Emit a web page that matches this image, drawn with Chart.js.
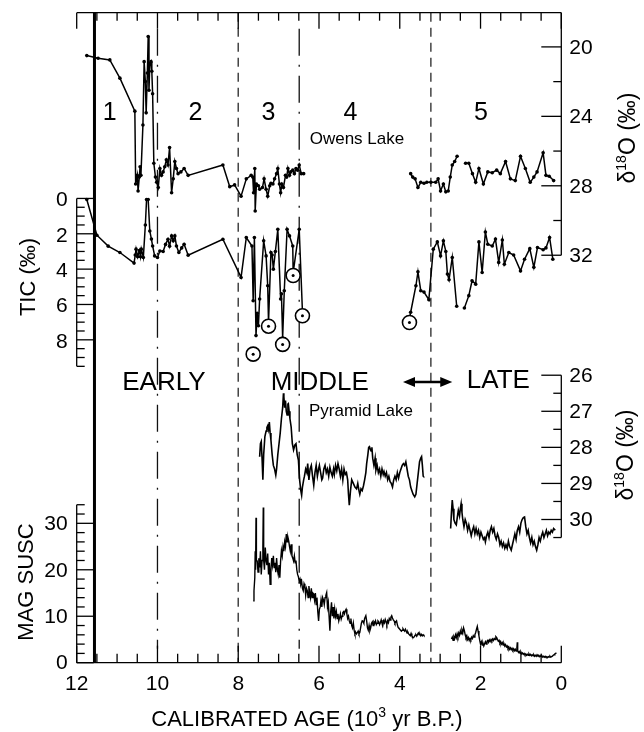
<!DOCTYPE html>
<html>
<head>
<meta charset="utf-8">
<title>Owens Lake / Pyramid Lake records</title>
<script src="https://cdn.jsdelivr.net/npm/chart.js@4.4.1/dist/chart.umd.min.js"></script>
<style>
  html, body { margin: 0; padding: 0; background: #fff; }
  #wrap { position: relative; width: 644px; height: 732px; }
</style>
</head>
<body>
<div id="wrap"><canvas id="chart"></canvas></div>
<script>
// --- Data (age in 10^3 yr B.P., value) ---
// Owens Lake d18O (permil)
const owensD18O = [
  [11.75, 20.5], [11.47, 20.65], [11.18, 20.75], [10.93, 21.8], [10.56, 23.7],
  [10.54, 27.9], [10.50, 27.4], [10.48, 28.3], [10.45, 27.5], [10.43, 26.9],
  [10.41, 27.4], [10.36, 24.5], [10.33, 20.85], [10.30, 22.0], [10.28, 23.8],
  [10.25, 21.5], [10.23, 19.4], [10.21, 22.5], [10.19, 21.0], [10.16, 20.85],
  [10.14, 21.4], [10.12, 22.7], [10.09, 26.7], [10.05, 27.5], [10.02, 27.8],
  [9.98, 28.1], [9.94, 27.0], [9.90, 27.4], [9.86, 27.2], [9.82, 26.9],
  [9.78, 26.5], [9.74, 26.8], [9.70, 25.8], [9.65, 28.4], [9.61, 27.6],
  [9.57, 26.6], [9.53, 27.0], [9.49, 27.3], [9.42, 27.2], [9.34, 27.0],
  [9.24, 27.4], [8.38, 26.8], [8.21, 28.05], [8.09, 27.95], [7.93, 28.6],
  [7.80, 27.6], [7.68, 27.4], [7.64, 27.5], [7.62, 28.4], [7.59, 27.0],
  [7.58, 29.45], [7.55, 27.9], [7.50, 28.0], [7.47, 28.2], [7.40, 28.1],
  [7.36, 27.6], [7.31, 28.2], [7.27, 28.6], [7.22, 28.0], [7.19, 27.85],
  [7.14, 27.9], [7.10, 27.6], [7.05, 27.3], [7.02, 27.0], [6.98, 27.9],
  [6.95, 28.4], [6.92, 27.9], [6.88, 28.1], [6.83, 27.4], [6.80, 27.5],
  [6.77, 27.0], [6.73, 27.4], [6.70, 27.2], [6.65, 27.1], [6.61, 27.3],
  [6.57, 27.0], [6.53, 27.1], [6.49, 26.8], [6.44, 27.3], [6.38, 27.3],
  [5.0, null],
  [3.73, 27.3], [3.68, 27.5], [3.62, 27.6], [3.55, 28.1], [3.48, 27.8],
  [3.40, 27.85], [3.33, 27.8], [3.23, 27.8], [3.11, 27.8], [3.05, 27.6],
  [2.99, 28.3], [2.92, 27.9], [2.86, 28.35], [2.80, 28.3], [2.75, 27.5],
  [2.70, 26.8], [2.64, 26.6], [2.58, 26.3],
  [2.48, null],
  [2.37, 26.7], [2.29, 26.7], [2.20, 27.3], [2.12, 27.8], [2.04, 27.0],
  [1.93, 27.9], [1.82, 27.2], [1.71, 27.25], [1.60, 27.1], [1.51, 27.3],
  [1.38, 26.6], [1.26, 27.6], [1.14, 27.7], [1.01, 26.3], [0.89, 27.0],
  [0.77, 27.8], [0.68, 27.5], [0.60, 27.2], [0.45, 26.1], [0.38, 27.4],
  [0.30, 27.45], [0.19, 27.7]
];

// Owens Lake TIC (permil)
const owensTIC = [
  [11.75, 0.06], [11.50, 2.08], [11.22, 2.7], [10.93, 3.06], [10.58, 3.66],
  [10.55, 3.2], [10.53, 2.87], [10.49, 3.3], [10.45, 2.95], [10.42, 3.3],
  [10.40, 2.87], [10.35, 3.34], [10.30, 1.5], [10.27, 0.06], [10.23, 0.06],
  [10.19, 1.84], [10.15, 2.3], [10.12, 2.69], [10.07, 3.25], [10.00, 3.34],
  [9.94, 2.97], [9.86, 3.0], [9.80, 2.6], [9.74, 2.31], [9.70, 2.7],
  [9.65, 2.12], [9.61, 2.4], [9.57, 2.12], [9.53, 2.69], [9.47, 3.06],
  [9.40, 2.8], [9.34, 2.59], [9.24, 3.21], [8.38, 2.31], [7.93, 4.47],
  [7.80, 2.21], [7.66, 2.69], [7.63, 5.79], [7.60, 2.21], [7.56, 7.76],
  [7.53, 6.5], [7.50, 7.2], [7.47, 5.69], [7.37, 2.4], [7.31, 3.25],
  [7.27, 4.94], [7.25, 7.0], [7.19, 3.06], [7.16, 3.2], [7.13, 4.0],
  [7.08, 3.0], [7.02, 1.75], [6.95, 5.69], [6.93, 5.4], [6.90, 7.9],
  [6.86, 5.22], [6.79, 1.75], [6.73, 2.12], [6.65, 2.69], [6.64, 4.2],
  [6.49, 1.75], [6.41, 6.4],
  [5.0, null],
  [3.76, 6.8], [3.73, 6.44], [3.60, 4.94], [3.55, 4.15], [3.48, 5.22],
  [3.40, 5.3], [3.28, 5.73], [3.17, 2.87], [3.07, 2.46], [2.99, 3.25],
  [2.92, 2.4], [2.86, 3.0], [2.82, 4.28], [2.78, 4.6], [2.70, 3.34],
  [2.59, 6.1],
  [2.50, null],
  [2.40, 6.2], [2.29, 5.5], [2.21, 4.66], [2.12, 4.85], [2.04, 2.46],
  [1.96, 4.19], [1.88, 1.9], [1.82, 2.59], [1.71, 2.69], [1.63, 2.3],
  [1.55, 3.62], [1.46, 2.35], [1.41, 3.72], [1.30, 3.06], [1.18, 3.2],
  [1.01, 4.1], [0.91, 3.44], [0.78, 2.84], [0.68, 3.9], [0.59, 2.78],
  [0.45, 2.9], [0.38, 2.8], [0.29, 2.21], [0.21, 3.44]
];

// circled TIC samples
const ticCircled = [
  [7.63, 8.81], [7.25, 7.23], [6.90, 8.26], [6.64, 4.36], [6.41, 6.64], [3.76, 7.02]
];

// Pyramid Lake d18O (permil)
const pyramidD18O = [
  [7.47, 28.26], [7.45, 27.9], [7.43, 27.84], [7.41, 28.3], [7.39, 28.9],
  [7.37, 28.2], [7.34, 27.7], [7.31, 27.55], [7.29, 27.45], [7.27, 27.4],
  [7.25, 27.5], [7.23, 27.3], [7.21, 27.6], [7.19, 27.8], [7.16, 28.2],
  [7.13, 28.5], [7.10, 28.6], [7.07, 28.77], [7.05, 28.6], [7.02, 28.2],
  [6.99, 27.9], [6.96, 27.6], [6.93, 27.2], [6.90, 26.9], [6.88, 26.5],
  [6.87, 26.6], [6.85, 26.9], [6.83, 26.7], [6.81, 27.0], [6.79, 27.1],
  [6.77, 26.8], [6.76, 26.79], [6.74, 27.0], [6.72, 27.2], [6.69, 27.43],
  [6.66, 27.9], [6.63, 28.07], [6.60, 27.94], [6.57, 27.9], [6.54, 28.2],
  [6.51, 28.35], [6.48, 28.9], [6.45, 29.2], [6.43, 29.33], [6.41, 29.1],
  [6.38, 28.9], [6.36, 28.8], [6.33, 28.6], [6.30, 28.7], [6.28, 28.45],
  [6.25, 28.9], [6.22, 28.6], [6.19, 28.5], [6.16, 28.8], [6.13, 29.05],
  [6.10, 28.7], [6.07, 28.5], [6.04, 28.8], [6.01, 28.6], [5.99, 28.5],
  [5.96, 28.7], [5.93, 28.9], [5.91, 28.85], [5.88, 28.6], [5.85, 28.5],
  [5.82, 28.7], [5.79, 28.6], [5.76, 28.8], [5.73, 28.55], [5.70, 28.7],
  [5.67, 28.8], [5.64, 28.6], [5.62, 28.75], [5.59, 28.5], [5.56, 28.65],
  [5.53, 28.45], [5.50, 28.6], [5.47, 28.8], [5.44, 28.6], [5.41, 28.9],
  [5.38, 28.6], [5.35, 28.75], [5.32, 28.7], [5.29, 28.9], [5.27, 29.3],
  [5.25, 29.6], [5.22, 29.2], [5.19, 28.9], [5.15, 29.0], [5.11, 29.1],
  [5.07, 29.15], [5.04, 29.0], [5.01, 29.2], [4.99, 29.3], [4.96, 29.15],
  [4.93, 29.2], [4.90, 29.07], [4.87, 28.9], [4.84, 28.7], [4.82, 28.45],
  [4.79, 28.2], [4.77, 28.0], [4.75, 27.98], [4.73, 28.05], [4.71, 28.1],
  [4.69, 28.0], [4.67, 28.3], [4.64, 28.5], [4.61, 28.3], [4.59, 28.63],
  [4.56, 28.5], [4.53, 28.7], [4.50, 28.6], [4.47, 28.8], [4.44, 28.6],
  [4.41, 28.75], [4.39, 28.67], [4.36, 28.8], [4.33, 28.7], [4.30, 28.9],
  [4.27, 28.8], [4.24, 28.95], [4.21, 29.0], [4.18, 29.1], [4.15, 28.9],
  [4.12, 28.8], [4.09, 28.9], [4.06, 28.7], [4.03, 28.85], [4.00, 28.7],
  [3.97, 28.6], [3.94, 28.5], [3.91, 28.45], [3.88, 28.5], [3.85, 28.4],
  [3.82, 28.6], [3.79, 28.8], [3.76, 28.9], [3.73, 29.1], [3.70, 29.2],
  [3.67, 29.3], [3.63, 29.37], [3.60, 29.3], [3.57, 29.0], [3.54, 28.7],
  [3.51, 28.4], [3.48, 28.3], [3.46, 28.26], [3.44, 28.5], [3.42, 28.8],
  [3.41, 28.81],
  [3.0, null],
  [2.74, 30.25], [2.72, 29.8], [2.70, 29.46], [2.68, 29.7], [2.66, 30.0],
  [2.63, 30.1], [2.60, 30.15], [2.57, 29.9], [2.55, 29.75], [2.52, 29.9],
  [2.50, 29.7], [2.48, 29.56], [2.46, 29.8], [2.44, 30.0], [2.41, 30.2],
  [2.38, 30.0], [2.35, 30.1], [2.32, 30.3], [2.29, 30.15], [2.26, 30.3],
  [2.23, 30.45], [2.20, 30.3], [2.17, 30.2], [2.14, 30.4], [2.11, 30.25],
  [2.08, 30.4], [2.05, 30.3], [2.02, 30.5], [1.99, 30.35], [1.96, 30.45],
  [1.93, 30.55], [1.90, 30.5], [1.88, 30.62], [1.85, 30.45], [1.82, 30.35],
  [1.79, 30.5], [1.76, 30.3], [1.73, 30.2], [1.70, 30.35], [1.67, 30.25],
  [1.64, 30.45], [1.61, 30.55], [1.58, 30.4], [1.55, 30.5], [1.52, 30.7],
  [1.49, 30.6], [1.46, 30.75], [1.43, 30.65], [1.40, 30.8], [1.37, 30.7],
  [1.34, 30.8], [1.31, 30.6], [1.28, 30.75], [1.24, 30.85], [1.21, 30.7],
  [1.18, 30.55], [1.15, 30.4], [1.12, 30.55], [1.09, 30.3], [1.06, 30.2],
  [1.03, 30.35], [1.00, 30.1], [0.97, 30.0], [0.94, 29.95], [0.91, 29.93],
  [0.88, 30.2], [0.85, 30.4], [0.82, 30.3], [0.79, 30.5], [0.76, 30.65],
  [0.73, 30.5], [0.70, 30.7], [0.67, 30.6], [0.64, 30.75], [0.61, 30.85],
  [0.58, 30.7], [0.55, 30.5], [0.52, 30.6], [0.49, 30.45], [0.46, 30.35],
  [0.43, 30.5], [0.40, 30.4], [0.37, 30.3], [0.34, 30.45], [0.31, 30.35],
  [0.28, 30.4], [0.25, 30.3], [0.22, 30.35], [0.19, 30.25], [0.15, 30.3]
];

// Pyramid Lake magnetic susceptibility
const pyramidMag = [
  [7.63, 13.3], [7.61, 15.5], [7.59, 18.3], [7.58, 24], [7.57, 20],
  [7.56, 31.2], [7.55, 22], [7.53, 21.9], [7.51, 19.5], [7.49, 22.5],
  [7.47, 20.5], [7.45, 24], [7.43, 19], [7.41, 22], [7.39, 25],
  [7.38, 33.4], [7.37, 22], [7.35, 20], [7.33, 24.8], [7.31, 22],
  [7.29, 21], [7.27, 23.5], [7.25, 19], [7.23, 21.5], [7.21, 16.9],
  [7.19, 20], [7.17, 22.5], [7.15, 21], [7.13, 23], [7.11, 20.5],
  [7.09, 21.5], [7.07, 19.5], [7.05, 22.5], [7.03, 20], [7.01, 19],
  [6.99, 21], [6.97, 18.3], [6.95, 22], [6.93, 24.1], [6.91, 23],
  [6.89, 25], [6.87, 24], [6.85, 26], [6.83, 25], [6.81, 27.7],
  [6.79, 26], [6.77, 27], [6.75, 26.2], [6.73, 25], [6.71, 24],
  [6.69, 25.5], [6.67, 23], [6.65, 22.5], [6.63, 21.9], [6.61, 23],
  [6.59, 21.5], [6.57, 22], [6.55, 20], [6.53, 19], [6.51, 18.5],
  [6.49, 17.5], [6.47, 18], [6.45, 16.9], [6.43, 17.5], [6.41, 16],
  [6.39, 15.5], [6.37, 17], [6.35, 16.5], [6.33, 14.5], [6.31, 16],
  [6.29, 15.5], [6.27, 14], [6.25, 16.5], [6.23, 15], [6.21, 14],
  [6.19, 16], [6.17, 14], [6.15, 15], [6.13, 14.8], [6.11, 13.5],
  [6.09, 15], [6.07, 12.5], [6.05, 14], [6.03, 11], [6.01, 9.0],
  [5.99, 11.5], [5.97, 12], [5.95, 13.5], [5.93, 12], [5.91, 14],
  [5.89, 13.5], [5.87, 12.5], [5.85, 14], [5.83, 14.5], [5.81, 15.1],
  [5.79, 12], [5.77, 13], [5.75, 10], [5.73, 6.9], [5.71, 11],
  [5.69, 13], [5.67, 10], [5.65, 12], [5.63, 9.5], [5.61, 11.5],
  [5.59, 10], [5.57, 11], [5.55, 9.5], [5.53, 10.5], [5.51, 9],
  [5.49, 9.7], [5.47, 10.5], [5.45, 9.4], [5.43, 10], [5.41, 10.8],
  [5.39, 11], [5.37, 10.5], [5.35, 11.2], [5.33, 11.5], [5.31, 10.5],
  [5.29, 9.5], [5.27, 10], [5.25, 9], [5.23, 8.5], [5.21, 9.5],
  [5.19, 8.0], [5.17, 7.5], [5.15, 8.5], [5.13, 7], [5.11, 6.2],
  [5.09, 6.5], [5.07, 6.2], [5.05, 6.5], [5.03, 6.8], [5.01, 6.2],
  [4.99, 6.5], [4.97, 7.5], [4.95, 8.5], [4.93, 9], [4.91, 8.9],
  [4.89, 8.5], [4.87, 9.5], [4.84, 10.1], [4.82, 9.0], [4.80, 7.5],
  [4.78, 7.0], [4.76, 8.0], [4.74, 6.9], [4.72, 7.5], [4.70, 8.5],
  [4.68, 8.8], [4.66, 8.0], [4.64, 8.8], [4.62, 8.5], [4.60, 9.0],
  [4.58, 8.2], [4.56, 8.5], [4.54, 9.0], [4.52, 8.8], [4.50, 8.2],
  [4.48, 8.6], [4.46, 9.2], [4.44, 8.5], [4.42, 8.0], [4.40, 9.0],
  [4.38, 8.6], [4.36, 9.3], [4.34, 8.8], [4.32, 8.2], [4.30, 9.0],
  [4.28, 8.6], [4.26, 9.5], [4.24, 9.2], [4.22, 9.8], [4.20, 10.1],
  [4.18, 9.6], [4.16, 9.2], [4.14, 9.0], [4.12, 8.5], [4.10, 8.8],
  [4.08, 9.0], [4.06, 8.2], [4.04, 7.6], [4.02, 7.4], [4.00, 7.2],
  [3.98, 7.0], [3.96, 6.8], [3.94, 7.0], [3.92, 7.3], [3.90, 7.0],
  [3.88, 6.8], [3.86, 7.2], [3.84, 6.8], [3.82, 6.4], [3.80, 6.6],
  [3.78, 6.2], [3.76, 6.0], [3.74, 5.8], [3.72, 6.3], [3.70, 5.8],
  [3.68, 5.5], [3.66, 5.4], [3.64, 5.6], [3.62, 5.9], [3.60, 6.0],
  [3.58, 5.7], [3.56, 6.1], [3.54, 6.4], [3.52, 6.0], [3.50, 6.2],
  [3.48, 5.8], [3.46, 6.1], [3.44, 5.8], [3.42, 6.0], [3.40, 5.8],
  [3.0, null],
  [2.72, 5.1], [2.70, 5.5], [2.68, 4.8], [2.66, 5.6], [2.64, 5.2],
  [2.62, 6.0], [2.60, 5.4], [2.58, 6.2], [2.56, 5.6], [2.54, 6.4],
  [2.52, 5.9], [2.50, 6.8], [2.48, 6.2], [2.46, 7.0], [2.44, 6.4],
  [2.42, 7.5], [2.40, 6.9], [2.38, 6.0], [2.36, 5.4], [2.34, 5.8],
  [2.32, 5.0], [2.30, 5.4], [2.28, 4.8], [2.26, 5.2], [2.24, 4.9],
  [2.22, 5.5], [2.20, 5.2], [2.18, 5.8], [2.16, 5.5], [2.14, 6.0],
  [2.12, 6.5], [2.10, 7.2], [2.08, 7.8], [2.06, 6.8], [2.04, 5.8],
  [2.02, 4.8], [2.00, 4.0], [1.98, 4.5], [1.96, 3.8], [1.94, 4.2],
  [1.92, 3.6], [1.90, 4.1], [1.88, 4.5], [1.86, 4.0], [1.84, 4.6],
  [1.82, 4.8], [1.80, 4.4], [1.78, 4.9], [1.76, 4.6], [1.74, 5.0],
  [1.72, 4.7], [1.70, 5.1], [1.68, 4.8], [1.66, 5.2], [1.64, 5.0],
  [1.62, 5.6], [1.60, 5.4], [1.58, 5.0], [1.56, 4.6], [1.54, 4.8],
  [1.52, 4.2], [1.50, 4.5], [1.48, 4.0], [1.46, 4.3], [1.44, 3.8],
  [1.42, 4.1], [1.40, 3.6], [1.38, 3.9], [1.36, 3.4], [1.34, 3.6],
  [1.32, 3.1], [1.30, 3.4], [1.28, 2.9], [1.26, 3.2], [1.24, 2.8],
  [1.22, 3.1], [1.20, 2.7], [1.18, 3.0], [1.16, 2.6], [1.14, 2.9],
  [1.12, 2.5], [1.10, 3.2], [1.09, 4.4], [1.08, 2.6], [1.06, 2.2],
  [1.04, 2.4], [1.02, 2.0], [1.00, 2.3], [0.98, 1.9], [0.96, 2.1],
  [0.94, 1.8], [0.92, 2.0], [0.90, 1.7], [0.88, 1.9], [0.86, 1.6],
  [0.84, 1.8], [0.82, 1.6], [0.80, 1.9], [0.78, 1.6], [0.76, 1.8],
  [0.74, 1.5], [0.72, 1.7], [0.70, 1.5], [0.68, 1.7], [0.66, 1.4],
  [0.64, 1.6], [0.62, 1.4], [0.60, 1.7], [0.58, 1.5], [0.56, 1.6],
  [0.54, 1.3], [0.52, 1.5], [0.50, 1.3], [0.48, 1.5], [0.46, 1.2],
  [0.44, 1.4], [0.42, 1.2], [0.40, 1.4], [0.38, 1.2], [0.36, 1.3],
  [0.34, 1.1], [0.32, 1.3], [0.30, 1.2], [0.28, 1.4], [0.26, 1.2],
  [0.24, 1.3], [0.22, 1.4], [0.20, 1.6], [0.18, 1.7], [0.16, 1.9],
  [0.14, 2.0], [0.12, 2.1]
];

// tick labels
const ageLabels = [12, 10, 8, 6, 4, 2, 0];
const owensLabels = [20, 24, 28, 32];
const ticLabels = [0, 2, 4, 6, 8];
const pyramidLabels = [26, 27, 28, 29, 30];
const magLabels = [0, 10, 20, 30];

// zone boundaries (age) and zone numbers
const zoneNumbers = [['1', 11.18], ['2', 9.06], ['3', 7.25], ['4', 5.22], ['5', 1.99]];
const boundaryThick = 11.56;
const boundaryDashDot = [10.0, 6.49];
const boundaryDashed = [8.0, 3.23];

const FONT = '"Liberation Sans", Arial, Helvetica, sans-serif';

function toXY(pairs) {
  return pairs.map(p => ({ x: p[0], y: p[1] }));
}

function seg(ctx, x1, y1, x2, y2) {
  ctx.beginPath();
  ctx.moveTo(x1, y1);
  ctx.lineTo(x2, y2);
  ctx.stroke();
}

// draw a run of text pieces (for superscripts); frame is already placed
function textRun(ctx, parts, cx, cy) {
  let total = 0;
  parts.forEach(p => {
    ctx.font = `${p.size}px ${FONT}`;
    p.w = ctx.measureText(p.t).width;
    total += p.w;
  });
  let x = cx - total / 2;
  ctx.textAlign = 'left';
  ctx.textBaseline = 'alphabetic';
  parts.forEach(p => {
    ctx.font = `${p.size}px ${FONT}`;
    ctx.fillText(p.t, x, cy + (p.dy || 0));
    x += p.w;
  });
}

const d18oTitle = [
  { t: 'δ', size: 23 },
  { t: '18', size: 14, dy: -9 },
  { t: 'O (‰)', size: 23 }
];

const framePlugin = {
  id: 'frame',
  beforeDatasetsDraw(chart) {
    const { ctx, chartArea, scales: { x } } = chart;
    const top = chartArea.top, bottom = chartArea.bottom;
    ctx.save();
    // thick boundary
    ctx.strokeStyle = '#000';
    ctx.lineWidth = 3;
    const xt = x.getPixelForValue(boundaryThick);
    seg(ctx, xt, top, xt, bottom);
    // dash-dot boundaries
    ctx.lineWidth = 1.3;
    ctx.strokeStyle = '#111';
    ctx.setLineDash([27, 9, 2, 9]);
    boundaryDashDot.forEach(a => {
      const px = x.getPixelForValue(a);
      seg(ctx, px, top + 16, px, bottom - 14);
    });
    // dashed boundaries
    ctx.strokeStyle = '#444';
    ctx.lineWidth = 1.5;
    ctx.setLineDash([9, 6]);
    boundaryDashed.forEach(a => {
      const px = x.getPixelForValue(a);
      seg(ctx, px, top, px, bottom);
    });
    ctx.restore();
  },
  afterDatasetsDraw(chart) {
    const { ctx, chartArea, scales } = chart;
    const { x, owens, tic, pyr, mag } = scales;
    const top = chartArea.top, bottom = chartArea.bottom;
    const xl = x.getPixelForValue(12), xr = x.getPixelForValue(0);
    ctx.save();
    ctx.strokeStyle = '#000';
    ctx.fillStyle = '#000';
    ctx.lineWidth = 1.3;
    ctx.setLineDash([]);

    // top and bottom frame with age ticks
    seg(ctx, xl, top, xr, top);
    seg(ctx, xl, bottom, xr, bottom);
    for (let i = 0; i <= 24; i++) {
      const a = i * 0.5;
      const px = x.getPixelForValue(a);
      const major = i % 4 === 0;
      seg(ctx, px, top, px, top + (major ? 16 : 8));
      seg(ctx, px, bottom, px, bottom - (major ? 17 : 9));
    }

    ctx.font = `21px ${FONT}`;
    ctx.textBaseline = 'middle';

    // Owens d18O axis (right)
    seg(ctx, xr, top, xr, owens.getPixelForValue(32));
    for (let v = 20; v <= 32; v += 2) {
      const py = owens.getPixelForValue(v);
      seg(ctx, xr - (v % 4 === 0 ? 20 : 8), py, xr, py);
    }
    // Pyramid d18O axis (right)
    seg(ctx, xr, pyr.getPixelForValue(26), xr, pyr.getPixelForValue(30.5));
    for (let i = 0; i <= 9; i++) {
      const v = 26 + i * 0.5;
      const py = pyr.getPixelForValue(v);
      seg(ctx, xr - (i % 2 === 0 ? 20 : 8), py, xr, py);
    }
    // TIC axis (left)
    seg(ctx, xl, tic.getPixelForValue(0), xl, tic.getPixelForValue(9.5));
    for (let i = 0; i <= 19; i++) {
      const py = tic.getPixelForValue(i * 0.5);
      seg(ctx, xl, py, xl + (i % 4 === 0 ? 17 : 8), py);
    }
    // MAG SUSC axis (left)
    seg(ctx, xl, mag.getPixelForValue(34), xl, mag.getPixelForValue(0));
    for (let v = 0; v <= 34; v += 2) {
      const py = mag.getPixelForValue(v);
      seg(ctx, xl, py, xl + (v % 10 === 0 ? 17 : 8), py);
    }

    // tick labels
    ctx.font = `21px ${FONT}`;
    ctx.textAlign = 'left';
    owensLabels.forEach(v => ctx.fillText(String(v), xr + 8, owens.getPixelForValue(v) + 1));
    pyramidLabels.forEach(v => ctx.fillText(String(v), xr + 8, pyr.getPixelForValue(v) + 1));
    ctx.textAlign = 'right';
    ticLabels.forEach(v => ctx.fillText(String(v), xl - 9, tic.getPixelForValue(v) + 2));
    magLabels.forEach(v => ctx.fillText(String(v), xl - 9, mag.getPixelForValue(v) + 1));
    ctx.textAlign = 'center';
    ageLabels.forEach(a => ctx.fillText(String(a), x.getPixelForValue(a), bottom + 22));

    // axis titles
    textRun(ctx, [
      { t: 'CALIBRATED AGE (10', size: 22 },
      { t: '3', size: 14, dy: -9 },
      { t: ' yr B.P.)', size: 22 }
    ], 307, 726);

    const rotated = (cx, cy, fn) => {
      ctx.save();
      ctx.translate(cx, cy);
      ctx.rotate(-Math.PI / 2);
      fn();
      ctx.restore();
    };
    rotated(635, 138, () => textRun(ctx, d18oTitle, 0, 0));
    rotated(633, 455, () => textRun(ctx, d18oTitle, 0, 0));
    rotated(35, 277, () => textRun(ctx, [{ t: 'TIC (‰)', size: 22 }], 0, 0));
    rotated(33, 582, () => textRun(ctx, [{ t: 'MAG SUSC', size: 22 }], 0, 0));

    // zone numbers and labels
    ctx.textAlign = 'center';
    ctx.textBaseline = 'middle';
    ctx.font = `25px ${FONT}`;
    zoneNumbers.forEach(([t, a]) => ctx.fillText(t, x.getPixelForValue(a), 113));
    ctx.font = `17px ${FONT}`;
    ctx.fillText('Owens Lake', x.getPixelForValue(5.06), 139);
    ctx.fillText('Pyramid Lake', x.getPixelForValue(4.96), 411);
    ctx.font = `26px ${FONT}`;
    ctx.fillText('EARLY', x.getPixelForValue(9.84), 383);
    ctx.fillText('MIDDLE', x.getPixelForValue(5.98), 383);
    ctx.fillText('LATE', x.getPixelForValue(1.56), 381);

    // double arrow between MIDDLE and LATE
    const ax1 = x.getPixelForValue(3.92), ax2 = x.getPixelForValue(2.7), ay = 382;
    ctx.lineWidth = 2.6;
    seg(ctx, ax1 + 6, ay, ax2 - 6, ay);
    ctx.beginPath();
    ctx.moveTo(ax1, ay); ctx.lineTo(ax1 + 12, ay - 5); ctx.lineTo(ax1 + 12, ay + 5); ctx.closePath();
    ctx.moveTo(ax2, ay); ctx.lineTo(ax2 - 12, ay - 5); ctx.lineTo(ax2 - 12, ay + 5); ctx.closePath();
    ctx.fill();

    ctx.restore();
  }
};

const lineStyle = {
  borderColor: '#000',
  backgroundColor: '#000',
  tension: 0,
  spanGaps: false,
  fill: false
};

new Chart(document.getElementById('chart'), {
  type: 'line',
  data: {
    datasets: [
      { ...lineStyle, label: 'TIC circles', data: toXY(ticCircled), yAxisID: 'tic', showLine: false,
        pointRadius: 7, pointBorderWidth: 1.6, pointBorderColor: '#000', pointBackgroundColor: '#fff', order: 1 },
      { ...lineStyle, label: 'TIC circle centres', data: toXY(ticCircled), yAxisID: 'tic', showLine: false,
        pointRadius: 1.5, pointBorderWidth: 0, pointBackgroundColor: '#000', order: 0 },
      { ...lineStyle, label: 'Owens d18O', data: toXY(owensD18O), yAxisID: 'owens', borderWidth: 1.5,
        pointRadius: 1.8, pointBorderWidth: 0, pointBackgroundColor: '#000', order: 2 },
      { ...lineStyle, label: 'Owens TIC', data: toXY(owensTIC), yAxisID: 'tic', borderWidth: 1.5,
        pointRadius: 1.8, pointBorderWidth: 0, pointBackgroundColor: '#000', order: 2 },
      { ...lineStyle, label: 'Pyramid d18O', data: toXY(pyramidD18O), yAxisID: 'pyr', borderWidth: 1.6,
        pointRadius: 0, order: 2 },
      { ...lineStyle, label: 'Pyramid MAG SUSC', data: toXY(pyramidMag), yAxisID: 'mag', borderWidth: 1.4,
        pointRadius: 0, order: 2 }
    ]
  },
  options: {
    responsive: true,
    maintainAspectRatio: false,
    animation: false,
    events: [],
    layout: { padding: { left: 76.7, right: 82.7, top: 12.7, bottom: 69.3 } },
    plugins: { legend: { display: false }, tooltip: { enabled: false } },
    scales: {
      x: { type: 'linear', display: false, reverse: true, min: 0, max: 12 },
      // each y scale spans the whole plot height; min/max put its range in its own band
      owens: { type: 'linear', display: false, reverse: true, min: 18.03, max: 55.47 },
      tic: { type: 'linear', display: false, reverse: true, min: -10.51, max: 26.27 },
      pyr: { type: 'linear', display: false, reverse: true, min: 15.95, max: 33.97 },
      mag: { type: 'linear', display: false, min: 0, max: 139.9 }
    }
  },
  plugins: [framePlugin]
});
</script>
</body>
</html>
